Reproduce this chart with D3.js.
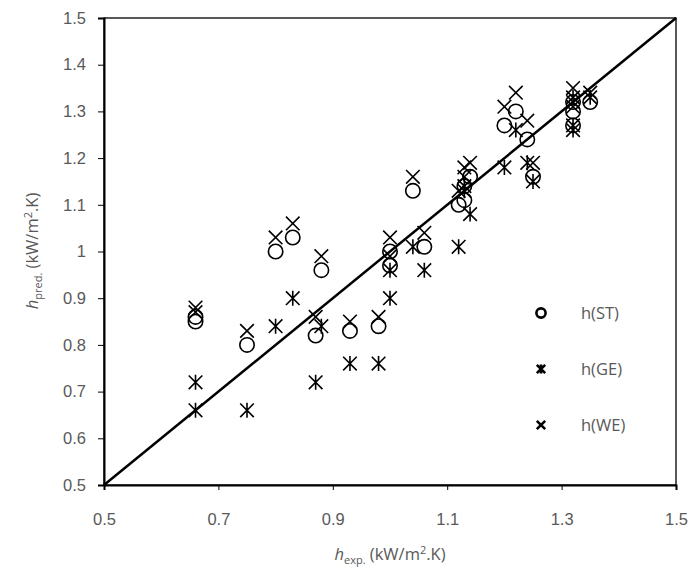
<!DOCTYPE html>
<html>
<head>
<meta charset="utf-8">
<script src="https://cdn.jsdelivr.net/npm/d3@7"></script>
<style>
  body { margin: 0; background: #fff; }
  svg { font-family: "Open Sans", Lato, sans-serif; }
  .axis text { fill: #595959; font-size: 16.5px; }
  .axis path, .axis line { stroke: #000; }
  .title { fill: #595959; font-size: 16.5px; }
  .legend text { fill: #595959; font-size: 16.5px; }
</style>
</head>
<body>
<div id="chart"></div>
<script>
// experimental h (x) and the three predictions (y), one entry per test
const hExp = [0.66, 0.66, 0.75, 0.80, 0.83, 0.87, 0.88, 0.93, 0.98, 1.00, 1.00, 1.04, 1.06,
              1.12, 1.13, 1.13, 1.14, 1.20, 1.22, 1.24, 1.25, 1.32, 1.32, 1.32, 1.35];
const hST  = [0.86, 0.85, 0.80, 1.00, 1.03, 0.82, 0.96, 0.83, 0.84, 1.00, 0.97, 1.13, 1.01,
              1.10, 1.11, 1.14, 1.16, 1.27, 1.30, 1.24, 1.16, 1.32, 1.30, 1.27, 1.32];
const hGE  = [0.72, 0.66, 0.66, 0.84, 0.90, 0.72, 0.84, 0.76, 0.76, 0.96, 0.90, 1.01, 0.96,
              1.01, 1.13, 1.14, 1.08, 1.18, 1.26, 1.19, 1.15, 1.33, 1.27, 1.26, 1.33];
const hWE  = [0.88, 0.87, 0.83, 1.03, 1.06, 0.86, 0.99, 0.85, 0.86, 1.03, 0.99, 1.16, 1.04,
              1.13, 1.16, 1.18, 1.19, 1.31, 1.34, 1.28, 1.19, 1.35, 1.31, 1.32, 1.34];

const seriesNames = ['h(ST)', 'h(GE)', 'h(WE)'];
const seriesKinds = ['circle', 'star', 'cross'];
const xTicks = [0.5, 0.7, 0.9, 1.1, 1.3, 1.5];
const yTicks = [0.5, 0.6, 0.7, 0.8, 0.9, 1, 1.1, 1.2, 1.3, 1.4, 1.5];
const domain = [0.5, 1.5];

const size = { w: 695, h: 575 };
const margin = { top: 18, right: 19, bottom: 90, left: 104 };
const width = size.w - margin.left - margin.right;
const height = size.h - margin.top - margin.bottom;

const x = d3.scaleLinear().domain(domain).range([0, width]);
const y = d3.scaleLinear().domain(domain).range([height, 0]);

const svg = d3.select('#chart').append('svg')
    .attr('width', size.w).attr('height', size.h);
const g = svg.append('g').attr('transform', `translate(${margin.left}, ${margin.top})`);

// marker paths centred on 0,0
function marker(sel, kind, s) {
    if (kind === 'circle') {
        sel.append('circle').attr('r', s).attr('fill', 'none');
    } else {
        let d = `M${-s},${-s}L${s},${s}M${-s},${s}L${s},${-s}`;
        if (kind === 'star') d += `M0,${-s * 1.1}L0,${s * 1.1}`;
        sel.append('path').attr('d', d).attr('fill', 'none');
    }
}

// diagonal y = x
g.append('line')
    .attr('x1', x(domain[0])).attr('y1', y(domain[0]))
    .attr('x2', x(domain[1])).attr('y2', y(domain[1]))
    .attr('stroke', '#000').attr('stroke-width', 2.5);

const seriesValues = [hST, hGE, hWE];
seriesValues.forEach((vals, si) => {
    const kind = seriesKinds[si];
    g.append('g').selectAll('g')
        .data(vals.map((v, i) => ({ x: hExp[i], y: v })))
        .enter().append('g')
        .attr('transform', d => `translate(${x(d.x)}, ${y(d.y)})`)
        .attr('stroke', '#000').attr('stroke-width', 1.6)
        .each(function () { marker(d3.select(this), kind, kind === 'circle' ? 7.2 : 6.8); });
});

// frame
g.append('rect')
    .attr('width', width).attr('height', height)
    .attr('fill', 'none').attr('stroke', '#000').attr('stroke-width', 1.3);

g.append('g')
    .attr('class', 'axis axis-x')
    .attr('transform', `translate(0, ${height})`)
    .call(d3.axisBottom(x).tickValues(xTicks).tickSize(5).tickPadding(23).tickFormat(d3.format('')))
    .call(a => a.select('.domain').attr('stroke-width', 2));

g.append('g')
    .attr('class', 'axis axis-y')
    .call(d3.axisLeft(y).tickValues(yTicks).tickSize(6).tickPadding(12).tickFormat(d3.format('')))
    .call(a => a.select('.domain').attr('stroke-width', 2));

// axis titles
const xt = svg.append('text').attr('class', 'title')
    .attr('x', 390).attr('y', 560).attr('text-anchor', 'middle');
xt.append('tspan').attr('font-style', 'italic').text('h');
xt.append('tspan').attr('font-size', 11).attr('dy', 4).text('exp.');
xt.append('tspan').attr('dy', -4).text(' (kW/m');
xt.append('tspan').attr('font-size', 11).attr('dy', -6).text('2');
xt.append('tspan').attr('dy', 6).text('.K)');

const yt = svg.append('text').attr('class', 'title')
    .attr('transform', 'translate(38, 251) rotate(-90)').attr('text-anchor', 'middle');
yt.append('tspan').attr('font-style', 'italic').text('h');
yt.append('tspan').attr('font-size', 11).attr('dy', 4).text('pred.');
yt.append('tspan').attr('dy', -4).text(' (kW/m');
yt.append('tspan').attr('font-size', 11).attr('dy', -6).text('2');
yt.append('tspan').attr('dy', 6).text('.K)');

// legend
const legendY = [313, 369, 425];
const legend = svg.append('g').attr('class', 'legend');
seriesNames.forEach((name, i) => {
    const item = legend.append('g').attr('transform', `translate(541, ${legendY[i]})`);
    const m = item.append('g').attr('stroke', '#000').attr('stroke-width', 2.6);
    marker(m, seriesKinds[i], seriesKinds[i] === 'circle' ? 4.6 : 4.2);
    item.append('text').attr('x', 40).attr('dy', '0.35em').text(name);
});
</script>
</body>
</html>
